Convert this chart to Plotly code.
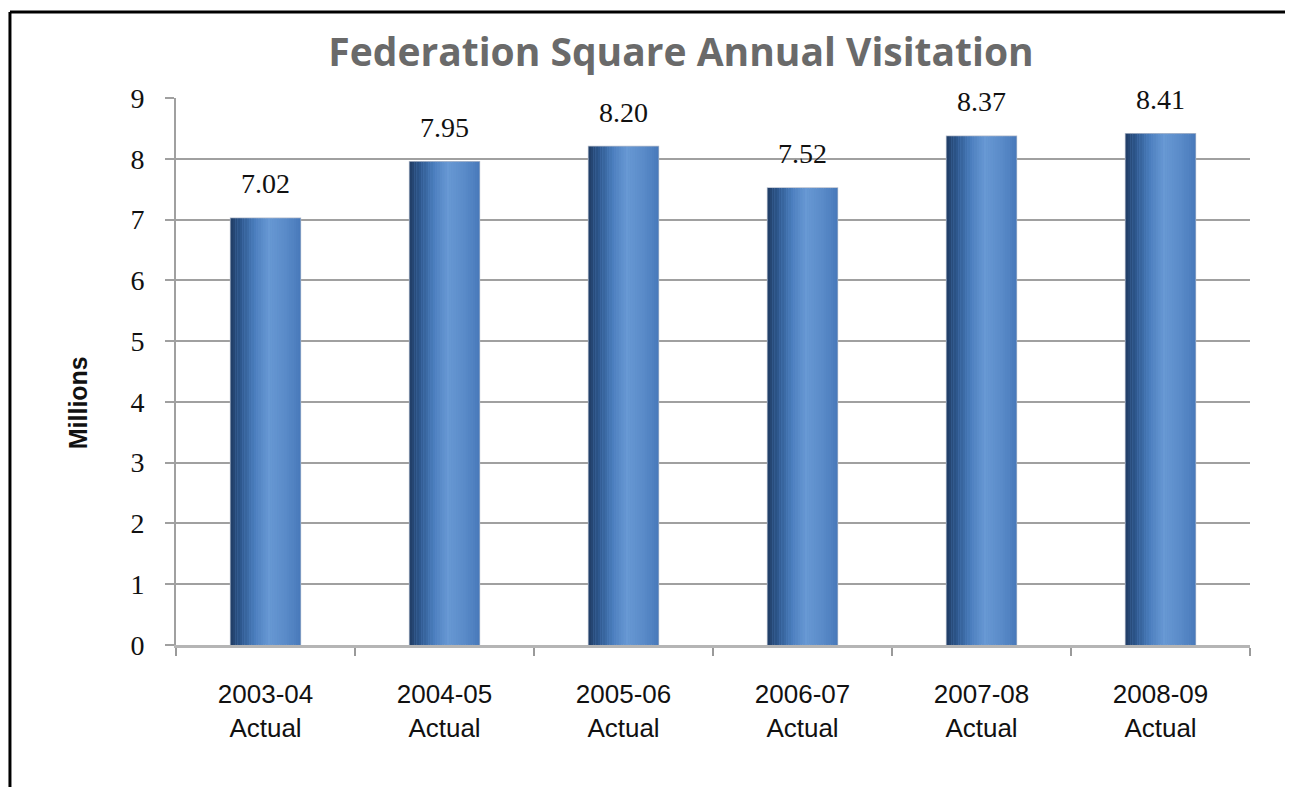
import plotly.graph_objects as go

# ---- data ----
years = ["2003-04", "2004-05", "2005-06", "2006-07", "2007-08", "2008-09"]
status = ["Actual", "Actual", "Actual", "Actual", "Actual", "Actual"]
visitors_millions = [7.02, 7.95, 8.20, 7.52, 8.37, 8.41]
value_labels = ["7.02", "7.95", "8.20", "7.52", "8.37", "8.41"]
y_ticks = [0, 1, 2, 3, 4, 5, 6, 7, 8, 9]

categories = [f"{y}<br>{s}" for y, s in zip(years, status)]

# ---- style ----
BAR_W = 0.39
N_STRIPES = 30
stops = [(0.0, (0x20, 0x3d, 0x66)), (0.15, (0x2e, 0x58, 0x8e)),
         (0.35, (0x4b, 0x7e, 0xbe)), (0.55, (0x68, 0x99, 0xd4)),
         (0.78, (0x5a, 0x8b, 0xc9)), (1.0, (0x48, 0x79, 0xba))]


def grad(t):
    for (t0, c0), (t1, c1) in zip(stops[:-1], stops[1:]):
        if t0 <= t <= t1:
            f = (t - t0) / (t1 - t0) if t1 > t0 else 0
            c = [round(a + (b - a) * f) for a, b in zip(c0, c1)]
            return "rgb(%d,%d,%d)" % tuple(c)
    return "rgb(%d,%d,%d)" % stops[-1][1]


fig = go.Figure()

# outline / base bar
fig.add_trace(go.Bar(
    x=categories, y=visitors_millions, width=BAR_W,
    marker=dict(color=grad(0.5), line=dict(color="#b4bccb", width=1.5)),
    hoverinfo="skip", showlegend=False,
))

sw = BAR_W / N_STRIPES
for i in range(N_STRIPES):
    t = (i + 0.5) / N_STRIPES
    fig.add_trace(go.Bar(
        x=categories, y=visitors_millions, width=sw * 1.05,
        offset=-BAR_W / 2 + i * sw,
        marker=dict(color=grad(t), line=dict(width=0)),
        hoverinfo="skip" if i else "x+y", showlegend=False,
    ))

for c, v, lab in zip(categories, visitors_millions, value_labels):
    fig.add_annotation(
        x=c, y=v, text=lab, showarrow=False, yanchor="bottom", yshift=17,
        font=dict(family="Liberation Serif", size=28, color="#111111"),
    )

# y-axis title
fig.add_annotation(
    x=-0.0912, y=0.442, xref="paper", yref="paper", text="<b>Millions</b>",
    textangle=-90, showarrow=False, xanchor="center", yanchor="middle",
    font=dict(family="Liberation Sans", size=25, color="#111111"),
)

# outer frame (only top and left edges are visible in the image)
fig.add_shape(type="line", xref="paper", yref="paper",
              x0=-0.1546, x1=1.1, y0=1.157, y1=1.157,
              line=dict(color="black", width=3), layer="below")
fig.add_shape(type="line", xref="paper", yref="paper",
              x0=-0.1546, x1=-0.1546, y0=-0.4, y1=1.157,
              line=dict(color="black", width=3), layer="below")

fig.update_layout(
    width=1293, height=787,
    margin=dict(l=168, r=51, t=90, b=150),
    paper_bgcolor="white", plot_bgcolor="white",
    barmode="overlay",
    title=dict(
        text="<b>Federation Square Annual Visitation</b>",
        x=0.5205, xref="container", xanchor="center",
        y=0.944, yref="container", yanchor="middle",
        font=dict(family="Open Sans", size=39, color="#6a6a6a"),
    ),
    showlegend=False,
)

fig.update_xaxes(
    type="category", showgrid=False, zeroline=False,
    showline=True, linecolor="#b5b5b5", linewidth=3,
    ticks="outside", tickson="boundaries", ticklen=8, tickwidth=2,
    tickcolor="#9a9a9a", ticklabelstandoff=24,
    tickfont=dict(family="Liberation Sans", size=26, color="#111111"),
)

fig.update_yaxes(
    range=[0, 9], tickvals=y_ticks, showgrid=True, gridcolor="#a0a0a0",
    gridwidth=2, zeroline=False, showline=True, linecolor="#a0a0a0",
    linewidth=2, ticks="outside", ticklen=9, tickwidth=2, tickcolor="#a0a0a0",
    ticklabelstandoff=15,
    tickfont=dict(family="Liberation Serif", size=28, color="#111111"),
)

fig.write_html("out.html")
